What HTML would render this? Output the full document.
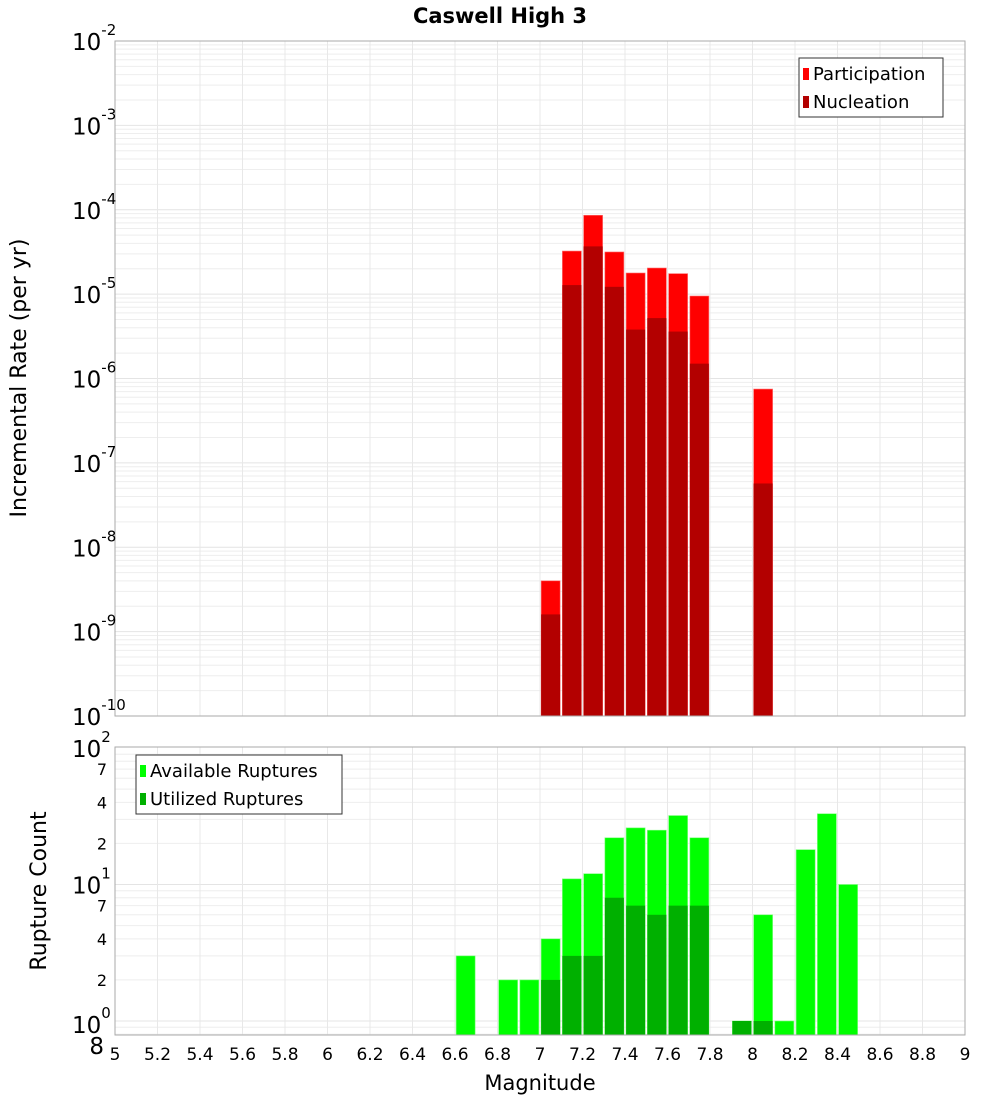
<!DOCTYPE html>
<html><head><meta charset="utf-8"><style>
body{margin:0;background:#fff;}
svg{display:block;font-family:"DejaVu Sans","Liberation Sans",sans-serif;}
</style></head><body>
<svg id="c" width="1000" height="1100" xmlns="http://www.w3.org/2000/svg"></svg>
<script>
const mags=[7.05,7.15,7.25,7.35,7.45,7.55,7.65,7.75,8.05];
const partic=[4e-9,3.24e-5,8.6e-5,3.16e-5,1.78e-5,2.04e-5,1.75e-5,9.5e-6,7.5e-7];
const nucl=[1.6e-9,1.28e-5,3.68e-5,1.22e-5,3.8e-6,5.2e-6,3.6e-6,1.5e-6,5.7e-8];
const cntMags=[6.65,6.85,6.95,7.05,7.15,7.25,7.35,7.45,7.55,7.65,7.75,7.95,8.05,8.15,8.25,8.35,8.45];
const avail=[3,2,2,4,11,12,22,26,25,32,22,1,6,1,18,33,10];
const util=[0,0,0,2,3,3,8,7,6,7,7,1,1,0,0,0,0];
const xTicks=[5,5.2,5.4,5.6,5.8,6,6.2,6.4,6.6,6.8,7,7.2,7.4,7.6,7.8,8,8.2,8.4,8.6,8.8,9];
const topDecades=[-2,-3,-4,-5,-6,-7,-8,-9,-10];

const S=document.getElementById('c'),NS='http://www.w3.org/2000/svg';
function el(t,a,p){const e=document.createElementNS(NS,t);for(const k in a)e.setAttribute(k,a[k]);(p||S).appendChild(e);return e;}
const X0=115,X1=965;
const xs=m=>X0+(m-5)/4*(X1-X0);
const T0=41,T1=716;
const yTop=v=>T0+(-2-Math.log10(v))*(T1-T0)/8;
const B0=747,B1=1035,BY1=1021,BDEC=136.5;
const yBot=v=>BY1-Math.log10(v)*BDEC;

// title
let t=el('text',{x:500,y:23,'text-anchor':'middle','font-size':21,'font-weight':'bold'});t.textContent='Caswell High 3';


// top grid
const gTop=el('g',{});
for(let d=-10;d<-2;d++)for(let k=1;k<10;k++){const y=yTop(k*Math.pow(10,d));el('line',{x1:X0,x2:X1,y1:y,y2:y,stroke:k==1?'#e4e4e4':'#eeeeee','stroke-width':1},gTop);}
xTicks.forEach(m=>{el('line',{x1:xs(m),x2:xs(m),y1:T0,y2:T1,stroke:'#e8e8e8'},gTop);});
// bottom grid
const gBot=el('g',{});
for(let d=-1;d<2;d++)for(let k=1;k<10;k++){const v=k*Math.pow(10,d);const y=yBot(v);if(y<B0||y>B1)continue;el('line',{x1:X0,x2:X1,y1:y,y2:y,stroke:k==1?'#e4e4e4':'#eeeeee'},gBot);}
xTicks.forEach(m=>{el('line',{x1:xs(m),x2:xs(m),y1:B0,y2:B1,stroke:'#e8e8e8'},gBot);});

const bw=19;
// top bars
mags.forEach((m,i)=>{
 let r=el('rect',{x:xs(m)-bw/2,y:yTop(partic[i]),width:bw,height:T1-yTop(partic[i]),fill:'#ff0000',stroke:'#ff7070','stroke-width':0.6});
 
 let n=el('rect',{x:xs(m)-bw/2,y:yTop(nucl[i]),width:bw,height:T1-yTop(nucl[i]),fill:'#b30000'});
 
});
// bottom bars
cntMags.forEach((m,i)=>{
 if(avail[i]>0){let r=el('rect',{x:xs(m)-bw/2,y:yBot(avail[i]),width:bw,height:B1-yBot(avail[i]),fill:'#00ff00',stroke:'#80ff80','stroke-width':0.6});
 }
 if(util[i]>0){let n=el('rect',{x:xs(m)-bw/2,y:yBot(util[i]),width:bw,height:B1-yBot(util[i]),fill:'#00b000'});
 }
});

// frames
let f1=el('rect',{x:X0,y:T0,width:X1-X0,height:T1-T0,fill:'none',stroke:'#aaa'});
let f2=el('rect',{x:X0,y:B0,width:X1-X0,height:B1-B0,fill:'none',stroke:'#aaa'});

// top y labels
topDecades.forEach(d=>{
 const y=yTop(Math.pow(10,d));
 let tx=el('text',{x:72,y:y+9,'font-size':23});tx.textContent='10';
 let sp=el('tspan',{dy:-15,'font-size':15},tx);sp.textContent=String(d);
 
});
// bottom y labels
[[100,'2'],[10,'1'],[1,'0']].forEach(([v,e])=>{
 const y=yBot(v);
 let tx=el('text',{x:72,y:y+9+(v==1?3:0),'font-size':23});tx.textContent='10';
 let sp=el('tspan',{dy:-15,'font-size':15},tx);sp.textContent=e;
 
});
[[70,'7'],[40,'4'],[20,'2'],[7,'7'],[4,'4'],[2,'2'],[0.8,'8']].forEach(([v,s])=>{
 const y=yBot(v);
 let tx=el('text',{x:v==0.8?104:107,y:(v==0.8?y+20:y+6),'font-size':v==0.8?23:16,'text-anchor':'end'});tx.textContent=s;
 
});
// x labels
xTicks.forEach(m=>{let tx=el('text',{x:xs(m),y:1060,'font-size':17,'text-anchor':'middle'});tx.textContent=String(m);
 });
let xt=el('text',{x:540,y:1090,'font-size':21,'text-anchor':'middle'});xt.textContent='Magnitude';

let yt1=el('text',{x:0,y:0,'font-size':22,'text-anchor':'middle',transform:'translate(26,378) rotate(-90)'});yt1.textContent='Incremental Rate (per yr)';

let yt2=el('text',{x:0,y:0,'font-size':22,'text-anchor':'middle',transform:'translate(46,891) rotate(-90)'});yt2.textContent='Rupture Count';


// legends
function legend(x,y,w,items,name){
 const g=el('g',{});
 el('rect',{x:x,y:y,width:w,height:59,fill:'#fff',stroke:'#333'},g);
 items.forEach(([c,l],i)=>{
  el('rect',{x:x+4,y:y+10+i*28,width:6,height:12,fill:c},g);
  const tx=el('text',{x:x+14,y:y+22+i*28,'font-size':18},g);tx.textContent=l;
 });
}
legend(799,58,144,[['#ff0000','Participation'],['#b30000','Nucleation']],'top-legend');
legend(136,755,206,[['#00ff00','Available Ruptures'],['#00b000','Utilized Ruptures']],'bottom-legend');
</script>
</body></html>
